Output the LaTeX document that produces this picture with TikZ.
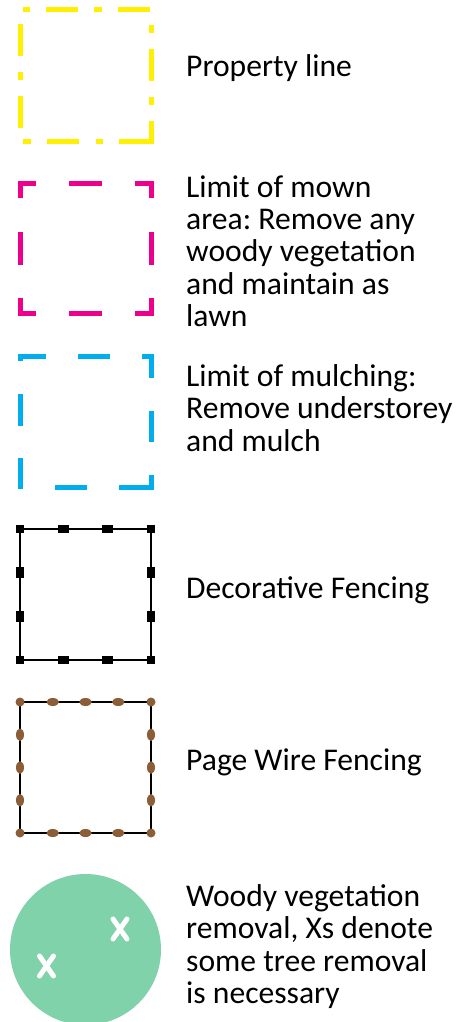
\documentclass[tikz,border=0pt]{standalone}
\usepackage{fontspec}
\setmainfont{Carlito}
\frenchspacing
\usetikzlibrary{shapes.geometric}
\definecolor{propyellow}{RGB}{255,240,0}
\definecolor{mownpink}{RGB}{236,0,140}
\definecolor{mulchblue}{RGB}{0,174,239}
\definecolor{vegreen}{RGB}{128,210,170}
\definecolor{wirebrown}{RGB}{139,94,56}
\begin{document}
\begin{tikzpicture}[x=1pt,y=-1pt,
  yline/.style={draw=propyellow,line width=5pt},
  pline/.style={draw=mownpink,line width=5pt},
  bline/.style={draw=mulchblue,line width=5pt},
  fenceline/.style={draw=black,line width=2pt},
  wireline/.style={draw=black,line width=2.2pt},
  hpost/.style={fill=black,draw=none,minimum width=11pt,minimum height=7.5pt,inner sep=0pt,rectangle},
  vpost/.style={fill=black,draw=none,minimum width=7.5pt,minimum height=11pt,inner sep=0pt,rectangle},
  cpost/.style={fill=black,draw=none,minimum width=8pt,minimum height=8pt,inner sep=0pt,rectangle},
  hknot/.style={fill=wirebrown,draw=none,ellipse,minimum width=12.5pt,minimum height=8pt,inner sep=0pt},
  vknot/.style={fill=wirebrown,draw=none,ellipse,minimum width=8pt,minimum height=12.5pt,inner sep=0pt},
  cknot/.style={fill=wirebrown,draw=none,circle,minimum size=9pt,inner sep=0pt},
  xmark/.style={draw=white,line width=5pt,line cap=round},
  label/.style={anchor=base west,align=left,inner sep=0pt,font=\fontsize{31.6}{32.4}\selectfont}
]
\useasboundingbox (0,0) rectangle (468,1022);

% ---- Property line (yellow dash-dot) ----
\draw[yline] (23,10) -- (30,10);
\draw[yline] (46,10) -- (78,10);
\draw[yline] (94,10) -- (102,10);
\draw[yline] (118,10) -- (150,10);
\draw[yline] (20,24) -- (20,56);
\draw[yline] (20,72) -- (20,80);
\draw[yline] (20,96) -- (20,128);
\draw[yline] (151,25) -- (151,33);
\draw[yline] (151,49) -- (151,81);
\draw[yline] (151,97) -- (151,105);
\draw[yline] (23,141) -- (31,141);
\draw[yline] (47,141) -- (79,141);
\draw[yline] (95.5,141) -- (103,141);
\draw[yline] (119,141) -- (151,141) -- (151,121);
\node[label] (tprop) at (186,77) {Property line};

% ---- Limit of mown area (pink dashed) ----
\draw[pline] (36,183) -- (20,183) -- (20,198);
\draw[pline] (69,183) -- (102,183);
\draw[pline] (135,183) -- (151,183) -- (151,198);
\draw[pline] (20,232) -- (20,265);
\draw[pline] (151,232) -- (151,265);
\draw[pline] (20,298) -- (20,313) -- (36,313);
\draw[pline] (69,313) -- (102,313);
\draw[pline] (151,298) -- (151,313) -- (135,313);
\node[label] (tmown) at (186,326.7) {Limit of mown\\area: Remove any\\woody vegetation\\and maintain as\\lawn};

% ---- Limit of mulching (blue dashed) ----
\draw[bline] (20,361) -- (20,356) -- (46,356);
\draw[bline] (78,356) -- (110,356);
\draw[bline] (142,356) -- (151,356) -- (151,378);
\draw[bline] (151,411) -- (151,442);
\draw[bline] (151,475) -- (151,487) -- (119,487);
\draw[bline] (87,487) -- (55,487);
\draw[bline] (20,394) -- (20,426);
\draw[bline] (20,458) -- (20,488.5);
\node[label] (tmulch) at (186,451) {Limit of mulching:\\Remove understorey\\and mulch};

% ---- Decorative fencing ----
\draw[fenceline] (20,529) rectangle (151,660);
\foreach \i/\x in {1/63.7,2/107.3}{
  \node[hpost] (dt\i) at (\x,529) {};
  \node[hpost] (db\i) at (\x,660) {};
}
\foreach \i/\y in {1/572.7,2/616.3}{
  \node[vpost] (dl\i) at (20,\y) {};
  \node[vpost] (dr\i) at (151,\y) {};
}
\node[cpost] (dc1) at (20,529) {};
\node[cpost] (dc2) at (151,529) {};
\node[cpost] (dc3) at (20,660) {};
\node[cpost] (dc4) at (151,660) {};
\node[label] (tdeco) at (186,598.3) {Decorative Fencing};

% ---- Page wire fencing ----
\draw[wireline] (20,702) rectangle (151,833);
\foreach \i/\x in {1/52.75,2/85.5,3/118.25}{
  \node[hknot] (wt\i) at (\x,702) {};
  \node[hknot] (wb\i) at (\x,833) {};
}
\foreach \i/\y in {1/734.75,2/767.5,3/800.25}{
  \node[vknot] (wl\i) at (20,\y) {};
  \node[vknot] (wr\i) at (151,\y) {};
}
\node[cknot] (wc1) at (20,702) {};
\node[cknot] (wc2) at (151,702) {};
\node[cknot] (wc3) at (20,833) {};
\node[cknot] (wc4) at (151,833) {};
\node[label] (twire) at (186,770.5) {Page Wire Fencing};

% ---- Woody vegetation removal ----
\fill[vegreen] (85.5,949.5) circle[radius=75.5];
\draw[xmark] (113,919) -- (127,939);
\draw[xmark] (127,919) -- (113,939);
\draw[xmark] (39.5,956) -- (53.5,976);
\draw[xmark] (53.5,956) -- (39.5,976);
\node[label] (tveg) at (186,1003.5) {Woody vegetation\\removal, Xs denote\\some tree removal\\is necessary};
\end{tikzpicture}
\end{document}
